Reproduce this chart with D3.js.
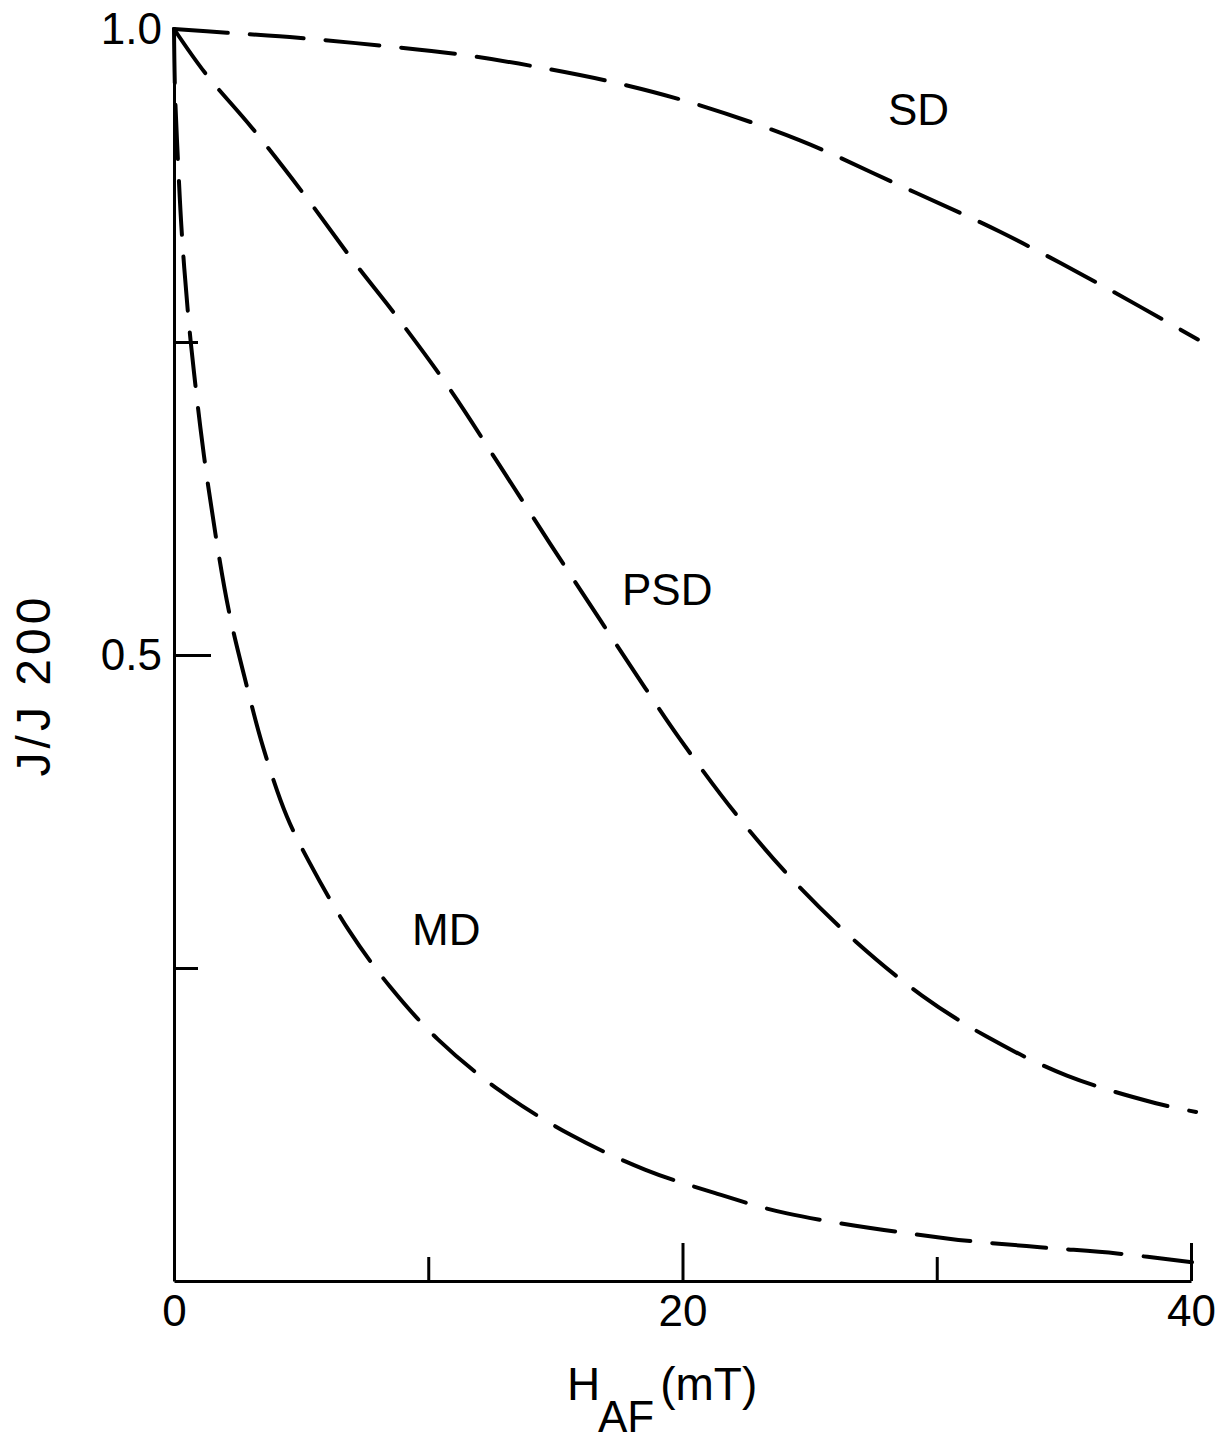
<!DOCTYPE html>
<html>
<head>
<meta charset="UTF-8">
<title>AF demagnetization curves</title>
<script src="https://cdn.jsdelivr.net/npm/d3@7"></script>
<style type="text/css">
	body{
		margin: 0;
		background: #fff;
	}
	text{
		font-family: "Liberation Sans", Arial, sans-serif;
		fill: #000;
	}
</style>
</head>
<body>
<script>
// H_AF in mT, J/J200
var sdH  = [0, 2.08, 4.88, 7.98, 11.13, 14.2, 17.6, 20.69, 24.62, 28.55, 32.49, 36.42, 40.27];
var sdJ  = [1.0, 0.997, 0.993, 0.987, 0.980, 0.970, 0.956, 0.939, 0.911, 0.875, 0.838, 0.796, 0.752];

var psdH = [0, 1.22, 3.07, 5.15, 7.04, 8.81, 10.86, 12.82, 14.79, 16.76, 18.52, 19.86, 22.1, 24.35, 26.82, 29.42, 31.98, 35.12, 38.62, 40.2];
var psdJ = [1.0, 0.965, 0.921, 0.867, 0.815, 0.769, 0.712, 0.651, 0.589, 0.528, 0.474, 0.434, 0.373, 0.320, 0.271, 0.228, 0.195, 0.164, 0.142, 0.135];

var mdH  = [0, 0.04, 0.16, 0.31, 0.55, 0.79, 1.18, 1.65, 2.16, 2.79, 3.54, 4.44, 5.31, 6.88, 8.5, 10.38, 12.82, 15.58, 18.52, 21.16, 24.11, 30.4, 34.06, 37.09, 40.04];
var mdJ  = [1.0, 0.950, 0.893, 0.836, 0.773, 0.725, 0.659, 0.594, 0.535, 0.481, 0.424, 0.371, 0.335, 0.280, 0.235, 0.193, 0.152, 0.117, 0.089, 0.071, 0.054, 0.034, 0.027, 0.022, 0.015];

var xTicks = [0, 10, 20, 30, 40];
var xLabels = ["0", "", "20", "", "40"];
var yTicks = [0.25, 0.5, 0.75, 1.0];
var yLabels = ["", "0.5", "", "1.0"];

var curveNames = ["SD", "PSD", "MD"];

var width = 1229;
var height = 1444;

var svg = d3.select("body").append("svg")
	.attr("width", width)
	.attr("height", height);

var x = d3.scaleLinear().domain([0, 40]).range([174, 1191]);
var y = d3.scaleLinear().domain([0, 1]).range([1281, 29]);

// x axis, ticks pointing inward
var xAxis = d3.axisBottom(x)
	.tickValues(xTicks)
	.tickFormat(function(d, i){ return xLabels[i]; })
	.tickSize(-24)
	.tickSizeOuter(0)
	.tickPadding(13);

var gx = svg.append("g")
	.attr("transform", "translate(0," + y(0) + ")")
	.call(xAxis);

gx.selectAll(".tick line")
	.attr("y2", function(d){ return d % 20 == 0 ? -38 : -24; })
	.attr("opacity", function(d){ return d == 0 ? 0 : 1; });

var yAxis = d3.axisLeft(y)
	.tickValues(yTicks)
	.tickFormat(function(d, i){ return yLabels[i]; })
	.tickSize(-24)
	.tickSizeOuter(0)
	.tickPadding(12);

var gy = svg.append("g")
	.attr("transform", "translate(" + x(0) + ",0)")
	.call(yAxis);

gy.selectAll(".tick line")
	.attr("x2", function(d){ return d == 0.5 ? 37 : 24; })
	.attr("opacity", function(d){ return d == 1 ? 0 : 1; });

svg.selectAll(".domain, .tick line")
	.attr("stroke", "#000")
	.attr("stroke-width", 3);

svg.selectAll(".tick text")
	.attr("font-size", "44px")
	.attr("font-family", "Liberation Sans, Arial, sans-serif")
	.attr("fill", "#000");

gx.selectAll(".tick text").attr("dy", "0.72em");

// the dashed curves
var line = d3.line()
	.x(function(d){ return x(d[0]); })
	.y(function(d){ return y(d[1]); })
	.curve(d3.curveCatmullRom.alpha(0.5));

var series = [[sdH, sdJ], [psdH, psdJ], [mdH, mdJ]];
// label baselines (px) next to each curve
var labelPos = [[888, 125], [622, 605], [412, 945]];

series.forEach(function(s, k){
	var pts = s[0].map(function(h, i){ return [h, s[1][i]]; });
	svg.append("path")
		.attr("d", line(pts))
		.attr("fill", "none")
		.attr("stroke", "#000")
		.attr("stroke-width", 4)
		.attr("stroke-linecap", "round")
		.attr("stroke-dasharray", "54,22");

	svg.append("text")
		.attr("x", labelPos[k][0])
		.attr("y", labelPos[k][1])
		.attr("font-size", "44px")
		.text(curveNames[k]);
});

// axis titles
svg.append("text")
	.attr("transform", "translate(50,685) rotate(-90)")
	.attr("text-anchor", "middle")
	.attr("font-size", "48px")
	.attr("letter-spacing", "4px")
	.text("J/J 200");

var xt = svg.append("text")
	.attr("x", 567)
	.attr("y", 1400)
	.attr("font-size", "46px");
xt.append("tspan").text("H");
xt.append("tspan").attr("x", 598).attr("y", 1432).attr("font-size", "44px").text("AF");
xt.append("tspan").attr("y", 1400).attr("dx", 6).text("(mT)");
</script>
</body>
</html>
